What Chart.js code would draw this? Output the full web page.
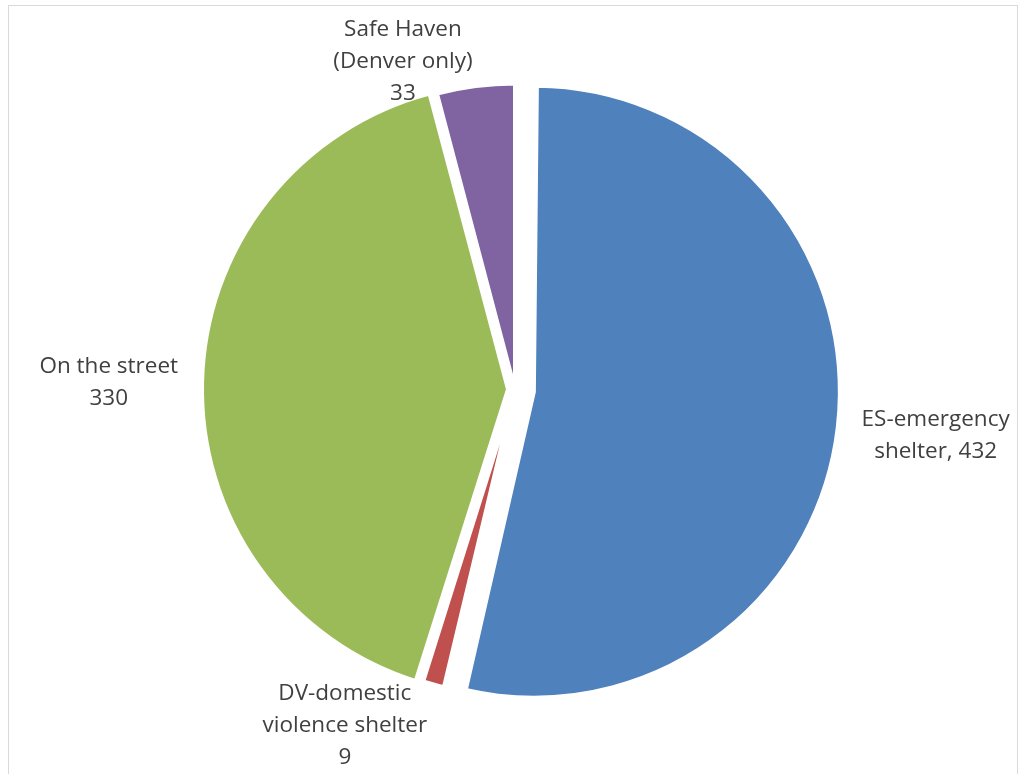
<!DOCTYPE html>
<html>
<head>
<meta charset="utf-8">
<title>Homeless count by location</title>
<script src="https://cdn.jsdelivr.net/npm/chart.js@4"></script>
<style>
  html, body { margin: 0; padding: 0; background: #fff; overflow: hidden; }
  #wrap { position: relative; width: 1023px; height: 774px; }
  #frame {
    position: absolute; left: 8px; top: 5px; width: 1010px; height: 820px;
    border: 1px solid #d9d9d9; box-sizing: border-box;
  }
  #chart { position: absolute; left: 0; top: 0; }
</style>
</head>
<body>
<div id="wrap">
  <div id="frame"></div>
  <canvas id="chart"></canvas>
</div>
<script>
// ─── Data ───────────────────────────────────────────────────

const categories = [
  'ES-emergency shelter',
  'DV-domestic violence shelter',
  'On the street',
  'Safe Haven (Denver only)',
];
const counts = [432, 9, 330, 33];

// label text as wrapped in the original, {v} is the count
const labelLines = [
  ['ES-emergency', 'shelter, {v}'],
  ['DV-domestic', 'violence shelter', '{v}'],
  ['On the street', '{v}'],
  ['Safe Haven', '(Denver only)', '{v}'],
];

// ─── Style ──────────────────────────────────────────────────

const SLICE_COLORS = ['#4F81BD', '#C0504D', '#9BBB59', '#8064A2'];
const EXPLODE_PX = [19, 0, 7, 0];   // how far each slice is pulled out
const PIE_RADIUS = 306;
const LABEL_FONT = '22.5px "Open Sans"';
const LABEL_COLOR = '#404040';
const LINE_H = 32;
const LABEL_GAP = 24;
const LABEL_TOP = 12;

// chart.js grows small slices when offset is set, undo that so all share one radius
const keepRadius = {
  id: 'keepRadius',
  beforeDatasetDraw(chart, args) {
    const meta = args.meta;
    const base = meta.controller.outerRadius;
    meta.data.forEach(arc => {
      const shift = (arc.options.offset || 0) / 4;
      const fix = 1 - Math.sin(Math.min(Math.PI, arc.circumference));
      arc.outerRadius = base - shift * fix;
    });
  },
};

// outside-end labels, Excel style
const sliceLabels = {
  id: 'sliceLabels',
  afterDatasetsDraw(chart) {
    const { ctx } = chart;
    const meta = chart.getDatasetMeta(0);
    const radius = meta.controller.outerRadius;
    ctx.save();
    ctx.font = LABEL_FONT;
    ctx.fillStyle = LABEL_COLOR;
    ctx.textAlign = 'center';
    ctx.textBaseline = 'alphabetic';
    meta.data.forEach((arc, i) => {
      const lines = labelLines[i].map(s => s.replace('{v}', counts[i]));
      const mid = (arc.startAngle + arc.endAngle) / 2;
      const dx = Math.cos(mid);
      const dy = Math.sin(mid);
      const shift = (arc.options.offset || 0) / 4;
      const dist = shift + radius + LABEL_GAP;
      const ax = arc.x + dx * dist;
      const ay = arc.y + dy * dist;
      const w = Math.max(...lines.map(l => ctx.measureText(l).width));
      const h = lines.length * LINE_H;
      const cx = ax + Math.sign(dx) * w / 2;
      let cy = Math.abs(dx) > 0.9 ? ay + dy * h / 2 : ay + Math.sign(dy) * h / 2;
      cy = Math.min(Math.max(cy, LABEL_TOP + h / 2), chart.height - 2 - h / 2);
      lines.forEach((l, k) => {
        ctx.fillText(l, cx, cy - h / 2 + LINE_H * (k + 0.5) + 8);
      });
    });
    ctx.restore();
  },
};

// ─── Chart ──────────────────────────────────────────────────

new Chart(document.getElementById('chart'), {
  type: 'pie',
  data: {
    labels: categories,
    datasets: [{
      data: counts,
      backgroundColor: SLICE_COLORS,
      borderColor: '#ffffff',
      borderWidth: 4,
      offset: EXPLODE_PX.map(p => p * 4),
      radius: PIE_RADIUS,
    }],
  },
  options: {
    responsive: true,
    maintainAspectRatio: false,
    animation: false,
    events: [],
    layout: { padding: { left: 7, top: 5, right: 0, bottom: 0 } },
    plugins: {
      legend: { display: false },
      tooltip: { enabled: false },
    },
  },
  plugins: [keepRadius, sliceLabels],
});
</script>
</body>
</html>
